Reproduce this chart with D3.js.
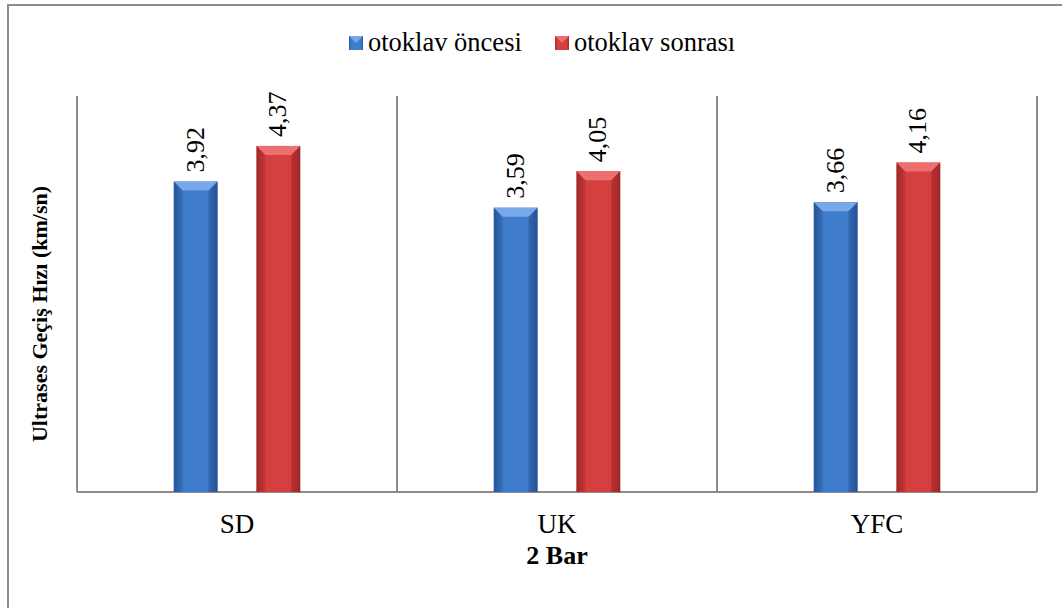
<!DOCTYPE html>
<html>
<head>
<meta charset="utf-8">
<script src="https://cdn.jsdelivr.net/npm/d3@7"></script>
<style>
  body { margin: 0; background: #fff; }
  svg { display: block; }
  text { font-family: "Liberation Serif", "Times New Roman", "DejaVu Serif", serif; }
</style>
</head>
<body>
<svg></svg>
<script>
const width = 1062;
const height = 608;

const categories = ['SD', 'UK', 'YFC'];
const seriesNames = ['otoklav öncesi', 'otoklav sonrası'];
const beforeValues = [3.92, 3.59, 3.66];
const afterValues = [4.37, 4.05, 4.16];
const valueLabels = [['3,92', '4,37'], ['3,59', '4,05'], ['3,66', '4,16']];

const svg = d3.select('svg')
    .attr('width', width)
    .attr('height', height);

const margin = { left: 77, right: 1037, top: 96, bottom: 492 };

// outer frame (runs off the right and bottom edge)
svg.append('rect')
    .attr('x', 8).attr('y', 5)
    .attr('width', 1070).attr('height', 620)
    .attr('fill', 'none')
    .attr('stroke', '#8c8c8c')
    .attr('stroke-width', 2);

const x = d3.scaleBand().domain(categories).range([margin.left, margin.right]);
const xs = d3.scaleBand().domain([0, 1]).range([0, x.bandwidth()]).paddingInner(0.47).paddingOuter(1.17);
const y = d3.scaleLinear().domain([0, 5]).range([margin.bottom, margin.top]);

const colors = [
    { edge: '#2b5a9e', mid: '#3f7ccb', top: '#79a8ea', side: '#1f4a88' },
    { edge: '#a82c2c', mid: '#d63f3f', top: '#ee6f6f', side: '#8f2222' }
];

const defs = svg.append('defs');
colors.forEach((c, i) => {
    const gr = defs.append('linearGradient').attr('id', 'g' + i)
        .attr('x1', 0).attr('x2', 1).attr('y1', 0).attr('y2', 0);
    gr.append('stop').attr('offset', '0%').attr('stop-color', c.edge);
    gr.append('stop').attr('offset', '18%').attr('stop-color', c.mid);
    gr.append('stop').attr('offset', '82%').attr('stop-color', c.mid);
    gr.append('stop').attr('offset', '100%').attr('stop-color', c.edge);
});

// axis frame: left axis, bottom axis, category separators
const g = svg.append('g');
g.append('line')
    .attr('x1', margin.left).attr('x2', margin.left)
    .attr('y1', margin.top).attr('y2', margin.bottom)
    .attr('stroke', '#8c8c8c').attr('stroke-width', 2);
g.append('line')
    .attr('x1', margin.left).attr('x2', margin.right)
    .attr('y1', margin.bottom).attr('y2', margin.bottom)
    .attr('stroke', '#8c8c8c').attr('stroke-width', 2);
g.selectAll('line.sep')
    .data(categories)
    .enter().append('line')
    .attr('class', 'sep')
    .attr('x1', d => x(d) + x.bandwidth())
    .attr('x2', d => x(d) + x.bandwidth())
    .attr('y1', margin.top).attr('y2', margin.bottom)
    .attr('stroke', '#8c8c8c').attr('stroke-width', 2);

const data = [];
categories.forEach((c, i) => {
    data.push({ cat: c, s: 0, v: beforeValues[i], label: valueLabels[i][0] });
    data.push({ cat: c, s: 1, v: afterValues[i], label: valueLabels[i][1] });
});

const bw = xs.bandwidth();
const bars = svg.selectAll('g.bar')
    .data(data).enter().append('g')
    .attr('class', 'bar')
    .attr('transform', d => `translate(${x(d.cat) + xs(d.s)},0)`);

bars.append('rect')
    .attr('x', 0)
    .attr('y', d => y(d.v))
    .attr('width', bw)
    .attr('height', d => y(0) - y(d.v))
    .attr('fill', d => `url(#g${d.s})`);

// bevel on top and sides
const bev = 9;
bars.append('path')
    .attr('d', d => {
        const t = y(d.v);
        return `M0,${t} L${bw},${t} L${bw - bev},${t + bev} L${bev},${t + bev} Z`;
    })
    .attr('fill', d => colors[d.s].top);
bars.append('path')
    .attr('d', d => {
        const t = y(d.v);
        return `M0,${t} L${bev},${t + bev} L${bev},${y(0)} L0,${y(0)} Z`;
    })
    .attr('fill', d => colors[d.s].side)
    .attr('opacity', 0.3);
bars.append('path')
    .attr('d', d => {
        const t = y(d.v);
        return `M${bw},${t} L${bw - bev},${t + bev} L${bw - bev},${y(0)} L${bw},${y(0)} Z`;
    })
    .attr('fill', d => colors[d.s].side)
    .attr('opacity', 0.45);

bars.append('text')
    .attr('transform', d => `translate(${bw / 2 + 8},${y(d.v) - 9}) rotate(-90)`)
    .attr('font-size', 26)
    .attr('fill', '#000')
    .text(d => d.label);

// category labels
svg.selectAll('text.cat')
    .data(categories).enter().append('text')
    .attr('class', 'cat')
    .attr('x', d => x(d) + x.bandwidth() / 2)
    .attr('y', 533)
    .attr('text-anchor', 'middle')
    .attr('font-size', 27)
    .text(d => d);

svg.append('text')
    .attr('x', x('UK') + x.bandwidth() / 2)
    .attr('y', 564)
    .attr('text-anchor', 'middle')
    .attr('font-size', 26)
    .attr('font-weight', 'bold')
    .text('2 Bar');

svg.append('text')
    .attr('transform', `translate(47,${(margin.top + margin.bottom) / 2 + 20}) rotate(-90)`)
    .attr('text-anchor', 'middle')
    .attr('font-size', 22)
    .attr('font-weight', 'bold')
    .text('Ultrases Geçiş Hızı (km/sn)');

// legend
const legendX = [349, 555];
const legend = svg.selectAll('g.legend')
    .data(seriesNames).enter().append('g')
    .attr('class', 'legend')
    .attr('transform', (d, i) => `translate(${legendX[i]},36)`);
legend.append('rect')
    .attr('width', 14).attr('height', 14)
    .attr('fill', (d, i) => `url(#g${i})`);
legend.append('path')
    .attr('d', 'M0,0 L14,0 L7,7 Z')
    .attr('fill', (d, i) => colors[i].top);
legend.append('text')
    .attr('x', 19).attr('y', 15)
    .attr('font-size', 26.5)
    .text(d => d);
</script>
</body>
</html>
